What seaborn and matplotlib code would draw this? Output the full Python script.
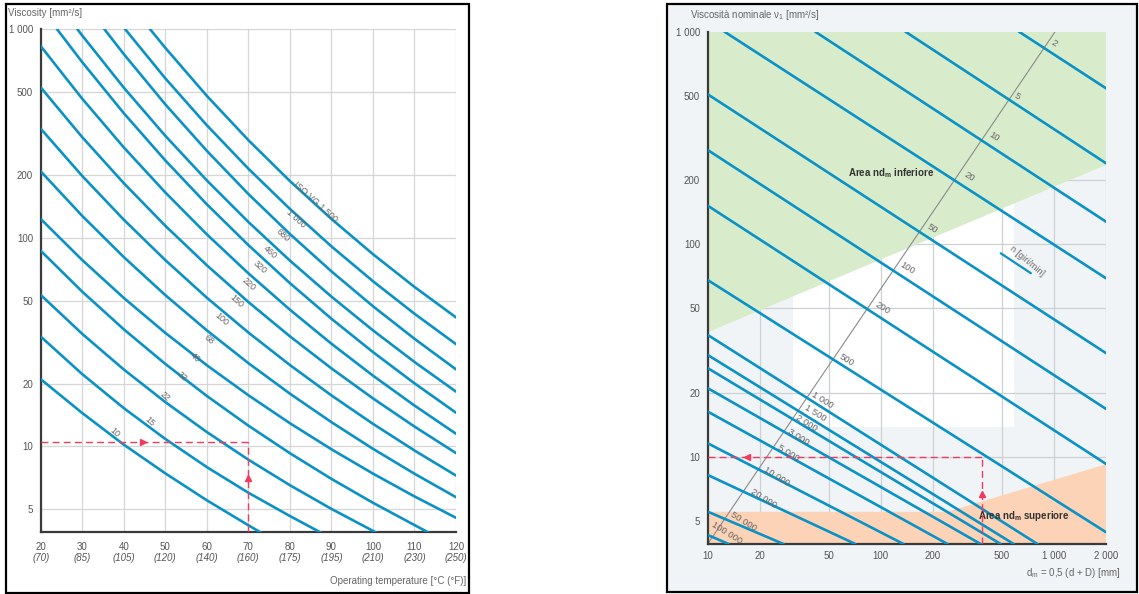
import matplotlib
matplotlib.use("Agg")
import matplotlib.pyplot as plt
from matplotlib.patches import Rectangle
from matplotlib.ticker import FixedLocator, FixedFormatter, NullLocator
import seaborn as sns

W, H = 1139, 594

# ---------------- Left chart: ISO VG viscosity vs. operating temperature ----------------
temp_ticks = [20, 30, 40, 50, 60, 70, 80, 90, 100, 110, 120]
temp_f_labels = ["(70)", "(85)", "(105)", "(120)", "(140)", "(160)", "(175)",
                 "(195)", "(210)", "(230)", "(250)"]
visc_ticks = [5, 10, 20, 50, 100, 200, 500, 1000]
visc_tick_labels = ["5", "10", "20", "50", "100", "200", "500", "1 000"]

vg10_t = [20, 30, 40, 50, 60, 70, 80]
vg10_v = [21.0, 14.45, 10.2, 7.43, 5.52, 4.19, 3.21]
vg15_t = [20, 30, 40, 50, 60, 70, 80, 90]
vg15_v = [33.6, 22.2, 15.26, 10.86, 7.96, 6.00, 4.64, 3.63]
vg22_t = [20, 30, 40, 50, 60, 70, 80, 90, 100, 110]
vg22_v = [53.2, 34.61, 23.37, 16.31, 11.72, 8.64, 6.52, 5.02, 3.94, 3.08]
vg32_t = [20, 30, 40, 50, 60, 70, 80, 90, 100, 110, 120]
vg32_v = [86.6, 55.15, 36.41, 24.85, 17.45, 12.58, 9.28, 6.99, 5.37, 4.20, 3.29]
vg46_t = [20, 30, 40, 50, 60, 70, 80, 90, 100, 110, 120]
vg46_v = [123, 78.15, 51.47, 35.0, 24.49, 17.59, 12.92, 9.69, 7.41, 5.76, 4.55]
vg68_t = [20, 30, 40, 50, 60, 70, 80, 90, 100, 110, 120]
vg68_v = [208, 127.2, 80.77, 53.09, 35.98, 25.07, 17.90, 13.07, 9.74, 7.40, 5.71]
vg100_t = [20, 30, 40, 50, 60, 70, 80, 90, 100, 110, 120]
vg100_v = [333, 197.6, 122.0, 78.1, 51.6, 35.14, 24.55, 17.56, 12.83, 9.56, 7.25]
vg150_t = [20, 30, 40, 50, 60, 70, 80, 90, 100, 110, 120]
vg150_v = [525, 303.1, 182.6, 114.1, 73.8, 49.2, 33.7, 23.66, 16.99, 12.45, 9.29]
vg220_t = [20, 30, 40, 50, 60, 70, 80, 90, 100, 110, 120]
vg220_v = [828, 463.3, 270.9, 164.8, 103.8, 67.53, 45.2, 31.05, 21.84, 15.70, 11.5]
vg320_t = [23.9, 30, 40, 50, 60, 70, 80, 90, 100, 110, 120]
vg320_v = [1000, 693.6, 395.1, 234.6, 144.6, 92.2, 60.6, 40.9, 28.32, 20.06, 14.5]
vg460_t = [28.8, 30, 40, 50, 60, 70, 80, 90, 100, 110, 120]
vg460_v = [1000, 930.4, 523.7, 307.8, 188.2, 119.0, 77.7, 52.2, 35.99, 25.39, 18.3]
vg680_t = [35.3, 40, 50, 60, 70, 80, 90, 100, 110, 120]
vg680_v = [1000, 758.5, 435.5, 260.8, 162.0, 104.2, 69.0, 46.96, 32.79, 23.4]
vg1000_t = [40.3, 50, 60, 70, 80, 90, 100, 110, 120]
vg1000_v = [1000, 580.4, 345.8, 214.2, 137.4, 90.9, 61.9, 43.23, 30.9]
vg1500_t = [46.3, 50, 60, 70, 80, 90, 100, 110, 120]
vg1500_v = [1000, 812.5, 478.3, 293.5, 186.9, 123.0, 83.4, 58.1, 41.5]

grade_labels = ["10", "15", "22", "32", "46", "68", "100", "150", "220",
                "320", "460", "680", "1 000", "ISO VG 1 500"]
grade_label_t = [37.9, 46.3, 50.0, 54.0, 57.2, 60.4, 63.6, 67.2, 70.0,
                 72.8, 75.3, 78.3, 81.4, 86.1]
grade_label_v = [11.6, 13.2, 17.4, 21.6, 26.6, 32.4, 40.8, 49.9, 60.0,
                 72.3, 85.3, 102.6, 123.3, 148.6]

# worked example (left): 70 °C -> 10.5 mm²/s
ex_temp = 70
ex_visc = 10.5
ex_arrow_right_t = 44.7
ex_arrow_up_v = 7.05

# ---------------- Right chart: rated viscosity vs. mean diameter ----------------
dm_ticks = [10, 20, 50, 100, 200, 500, 1000, 2000]
dm_tick_labels = ["10", "20", "50", "100", "200", "500", "1 000", "2 000"]

speed_labels = ["2", "5", "10", "20", "50", "100", "200", "500", "1 000", "1 500",
                "2 000", "3 000", "5 000", "10 000", "20 000", "50 000", "100 000"]
speed_dm_a = [628.7, 138.8, 41.8, 12.5, 10, 10, 10, 10, 10, 10, 10, 10, 10, 10, 10, 10, 10]
speed_nu_a = [1000, 1000, 1000, 1000, 507.6, 277.5, 151.8, 67.8, 37.4, 30.1,
              26.1, 21.0, 16.3, 11.56, 8.20, 5.51, 4.28]
speed_dm_b = [2000, 2000, 2000, 2000, 2000, 2000, 2000, 2000, 803.5, 586,
              492.6, 377.4, 243, 135.2, 71.3, 27.4, 13.2]
speed_nu_b = [541.6, 240.3, 127.6, 69.1, 30.7, 16.77, 9.24, 4.41, 3.88, 3.88,
              3.88, 3.88, 3.88, 3.88, 3.88, 3.88, 3.88]
speed_label_dm = [998.6, 615.5, 450.6, 322.8, 198.2, 142, 101.7, 63.8, 45.7, 41.8,
                  37.4, 33.5, 29.3, 25.1, 21.0, 16.1, 12.9]
speed_label_nu = [884.8, 494.5, 320.5, 207.8, 118.8, 77.0, 49.9, 28.5, 18.5, 16.0,
                  14.4, 12.4, 10.4, 8.05, 6.37, 4.94, 4.36]

# scale line carrying the speed labels
scale_dm = [10, 1016]
scale_nu = [3.88, 1000]

# shaded zones
lower_zone_dm = [10, 2000, 2000, 10]
lower_zone_nu = [1000, 1000, 236, 38.5]
upper_zone_dm = [10, 242, 2000, 2000, 10]
upper_zone_nu = [5.5, 5.5, 9.2, 3.88, 3.88]
clear_zone_dm = [31.2, 586, 586, 31.2]
clear_zone_nu = [13.8, 13.8, 1000, 1000]

# worked example (right): dm = 383 mm -> 10 mm²/s
ex2_dm = 383
ex2_visc = 10
ex2_arrow_left_dm = 16.8
ex2_arrow_up_v = 6.67

# ---------------- styling ----------------
sns.set_theme(style="white")
plt.rcParams["font.family"] = ["Liberation Sans", "DejaVu Sans"]
plt.rcParams["mathtext.default"] = "regular"

BLUE = "#0a92c6"
RED = "#f23a5e"
TXT = "#555555"
LBL = "#666666"
PANEL_BG = "#f0f4f6"

fig = plt.figure(figsize=(W / 100, H / 100), dpi=100)
fig.patch.set_facecolor("white")


def fx(px):
    return px / W


def fy(py):
    return 1 - py / H


# panel frames
fig.patches.append(Rectangle((fx(5.5), fy(592.5)), fx(469.3) - fx(5.5), (592.5 - 4) / H,
                             transform=fig.transFigure, fill=False, ec="black", lw=1.6, zorder=-1))
fig.patches.append(Rectangle((fx(667.3), fy(591.7)), fx(1137.3) - fx(667.3), (591.7 - 4) / H,
                             transform=fig.transFigure, fc=PANEL_BG, ec="black", lw=1.6, zorder=-1))


def style_axes(ax, grid_color):
    for s in ("top", "right"):
        ax.spines[s].set_visible(False)
    for s in ("left", "bottom"):
        ax.spines[s].set_color("#3a3a3a")
        ax.spines[s].set_linewidth(1.6)
    ax.grid(True, which="major", color=grid_color, lw=0.9)
    ax.tick_params(axis="both", which="major", direction="out", length=3, width=0.8,
                   color="#444444", labelsize=7, labelcolor=TXT)
    ax.tick_params(axis="y", pad=2.5)
    ax.set_xlabel("")
    ax.set_ylabel("")


# ---- left axes ----
ax1 = fig.add_axes([fx(40.7), fy(532), fx(456) - fx(40.7), (532 - 29) / H])
ax1.set_facecolor("white")
ax1.set_yscale("log")

curves = [(vg10_t, vg10_v), (vg15_t, vg15_v), (vg22_t, vg22_v), (vg32_t, vg32_v),
          (vg46_t, vg46_v), (vg68_t, vg68_v), (vg100_t, vg100_v), (vg150_t, vg150_v),
          (vg220_t, vg220_v), (vg320_t, vg320_v), (vg460_t, vg460_v), (vg680_t, vg680_v),
          (vg1000_t, vg1000_v), (vg1500_t, vg1500_v)]
for t, v in curves:
    sns.lineplot(x=t, y=v, ax=ax1, color=BLUE, lw=1.9, estimator=None, sort=False, zorder=3)

ax1.set_xlim(20, 120)
ax1.set_ylim(3.89, 1000)
ax1.xaxis.set_major_locator(FixedLocator(temp_ticks))
ax1.xaxis.set_major_formatter(FixedFormatter([str(t) for t in temp_ticks]))
ax1.yaxis.set_major_locator(FixedLocator(visc_ticks))
ax1.yaxis.set_major_formatter(FixedFormatter(visc_tick_labels))
ax1.yaxis.set_minor_locator(NullLocator())
style_axes(ax1, "#d6d6d6")
ax1.tick_params(axis="x", pad=4)

for t, lab in zip(temp_ticks, temp_f_labels):
    ax1.annotate(lab, xy=(t, 0), xycoords=("data", "axes fraction"), xytext=(0, -19),
                 textcoords="offset points", ha="center", va="center", fontsize=7,
                 color=TXT, style="italic", annotation_clip=False)

for lab, t, v in zip(grade_labels, grade_label_t, grade_label_v):
    ax1.text(t, v, lab, rotation=-42, ha="center", va="center", fontsize=6.5,
             color=LBL, zorder=4)

# example path
ax1.plot([20, ex_temp], [ex_visc, ex_visc], color=RED, lw=1.0, dashes=(5, 3), zorder=5)
ax1.plot([ex_temp, ex_temp], [3.89, ex_visc], color=RED, lw=1.0, dashes=(5, 3), zorder=5)
ax1.plot([ex_arrow_right_t], [ex_visc], marker=">", color=RED, ms=5, zorder=6)
ax1.plot([ex_temp], [ex_arrow_up_v], marker="^", color=RED, ms=5, zorder=6)

fig.text(fx(8), fy(12.5), "Viscosity [mm²/s]", fontsize=7, color="#666666",
         ha="left", va="center")
fig.text(fx(466), fy(581.5), "Operating temperature [°C (°F)]", fontsize=7,
         color="#666666", ha="right", va="center")

# ---- right axes ----
ax2 = fig.add_axes([fx(707.7), fy(544), fx(1106) - fx(707.7), (544 - 31.7) / H])
ax2.set_facecolor(PANEL_BG)
ax2.set_xscale("log")
ax2.set_yscale("log")

ax2.fill(clear_zone_dm, clear_zone_nu, color="white", lw=0, zorder=0.5)
ax2.fill(lower_zone_dm, lower_zone_nu, color="#d8eccb", lw=0, zorder=0.6)
ax2.fill(upper_zone_dm, upper_zone_nu, color="#fcd3b6", lw=0, zorder=0.7)

sns.lineplot(x=scale_dm, y=scale_nu, ax=ax2, color="#8a8a8a", lw=0.8, estimator=None, zorder=2)
for da, na, db, nb in zip(speed_dm_a, speed_nu_a, speed_dm_b, speed_nu_b):
    sns.lineplot(x=[da, db], y=[na, nb], ax=ax2, color=BLUE, lw=1.9, estimator=None,
                 sort=False, zorder=3)

ax2.set_xlim(10, 2000)
ax2.set_ylim(3.88, 1000)
ax2.xaxis.set_major_locator(FixedLocator(dm_ticks))
ax2.xaxis.set_major_formatter(FixedFormatter(dm_tick_labels))
ax2.xaxis.set_minor_locator(NullLocator())
ax2.yaxis.set_major_locator(FixedLocator(visc_ticks))
ax2.yaxis.set_major_formatter(FixedFormatter(visc_tick_labels))
ax2.yaxis.set_minor_locator(NullLocator())
style_axes(ax2, "#cdd1d4")
ax2.tick_params(axis="x", pad=2)

for lab, d, v in zip(speed_labels, speed_label_dm, speed_label_nu):
    ax2.text(d, v, lab, rotation=-32, ha="center", va="center", fontsize=6.8,
             color=LBL, zorder=4)

ax2.text(114, 216, "Area nd$_m$ inferiore", ha="center", va="center", fontsize=7,
         fontweight="bold", color="#333333", zorder=4)
ax2.text(672, 5.26, "Area nd$_m$ superiore", ha="center", va="center", fontsize=7,
         fontweight="bold", color="#333333", zorder=4)

# speed legend sample
sns.lineplot(x=[493, 736], y=[90.6, 73.0], ax=ax2, color=BLUE, lw=1.6, estimator=None, zorder=3)
ax2.text(700, 83, "n [giri/min]", rotation=-40, ha="center", va="center", fontsize=6.5,
         color=LBL, zorder=4)

# example path
ax2.plot([10, ex2_dm], [ex2_visc, ex2_visc], color=RED, lw=1.0, dashes=(5, 3), zorder=5)
ax2.plot([ex2_dm, ex2_dm], [3.88, ex2_visc], color=RED, lw=1.0, dashes=(5, 3), zorder=5)
ax2.plot([ex2_arrow_left_dm], [ex2_visc], marker="<", color=RED, ms=5, zorder=6)
ax2.plot([ex2_dm], [ex2_arrow_up_v], marker="^", color=RED, ms=5, zorder=6)

fig.text(fx(690), fy(15), "Viscosità nominale ν$_1$ [mm²/s]", fontsize=7, color="#666666",
         ha="left", va="center")
fig.text(fx(1121), fy(573.5), "d$_m$ = 0,5 (d + D) [mm]", fontsize=7, color="#666666",
         ha="right", va="center")

fig.savefig("out.png", dpi=100, facecolor="white")
